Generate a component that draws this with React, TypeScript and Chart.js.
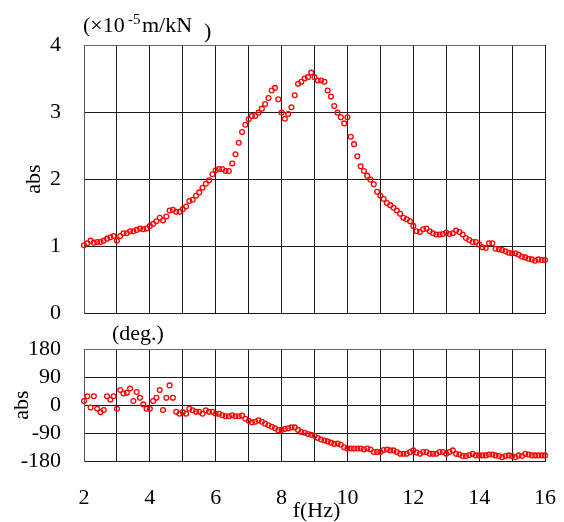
import { useEffect, useRef } from "react";
import { Chart, registerables } from "chart.js";

Chart.register(...registerables);

const freqHz = [
  2.0, 2.1, 2.2, 2.3, 2.4, 2.5, 2.6, 2.7, 2.8, 2.9,
  3.0, 3.1, 3.2, 3.3, 3.4, 3.5, 3.6, 3.7, 3.8, 3.9,
  4.0, 4.1, 4.2, 4.3, 4.4, 4.5, 4.6, 4.7, 4.8, 4.9,
  5.0, 5.1, 5.2, 5.3, 5.4, 5.5, 5.6, 5.7, 5.8, 5.9,
  6.0, 6.1, 6.2, 6.3, 6.4, 6.5, 6.6, 6.7, 6.8, 6.9,
  7.0, 7.1, 7.2, 7.3, 7.4, 7.5, 7.6, 7.7, 7.8, 7.9,
  8.0, 8.1, 8.2, 8.3, 8.4, 8.5, 8.6, 8.7, 8.8, 8.9,
  9.0, 9.1, 9.2, 9.3, 9.4, 9.5, 9.6, 9.7, 9.8, 9.9,
  10.0, 10.1, 10.2, 10.3, 10.4, 10.5, 10.6, 10.7, 10.8, 10.9,
  11.0, 11.1, 11.2, 11.3, 11.4, 11.5, 11.6, 11.7, 11.8, 11.9,
  12.0, 12.1, 12.2, 12.3, 12.4, 12.5, 12.6, 12.7, 12.8, 12.9,
  13.0, 13.1, 13.2, 13.3, 13.4, 13.5, 13.6, 13.7, 13.8, 13.9,
  14.0, 14.1, 14.2, 14.3, 14.4, 14.5, 14.6, 14.7, 14.8, 14.9,
  15.0, 15.1, 15.2, 15.3, 15.4, 15.5, 15.6, 15.7, 15.8, 15.9,
  16.0,
];

// |compliance| (x10^-5 m/kN)
const absValues = [
  1.01, 1.04, 1.08, 1.05, 1.06, 1.06, 1.08, 1.11, 1.13, 1.15,
  1.08, 1.15, 1.19, 1.19, 1.22, 1.22, 1.24, 1.26, 1.25, 1.26,
  1.30, 1.33, 1.37, 1.42, 1.38, 1.44, 1.53, 1.54, 1.51, 1.51,
  1.55, 1.59, 1.67, 1.69, 1.75, 1.80, 1.87, 1.93, 1.98, 2.07,
  2.13, 2.15, 2.15, 2.12, 2.12, 2.23, 2.37, 2.54, 2.70, 2.81,
  2.89, 2.94, 2.94, 2.99, 3.05, 3.12, 3.21, 3.32, 3.36, 3.19,
  2.99, 2.90, 2.97, 3.07, 3.25, 3.42, 3.45, 3.50, 3.52, 3.59,
  3.52, 3.47, 3.47, 3.45, 3.32, 3.23, 3.09, 2.99, 2.92, 2.83,
  2.92, 2.63, 2.52, 2.34, 2.19, 2.12, 2.05, 1.99, 1.92, 1.81,
  1.75, 1.70, 1.64, 1.61, 1.57, 1.53, 1.48, 1.42, 1.40, 1.37,
  1.30, 1.22, 1.21, 1.25, 1.26, 1.22, 1.19, 1.17, 1.17, 1.18,
  1.20, 1.18, 1.19, 1.23, 1.21, 1.17, 1.12, 1.09, 1.06, 1.06,
  1.02, 0.98, 0.97, 1.04, 1.04, 0.96, 0.95, 0.94, 0.92, 0.90,
  0.89, 0.89, 0.87, 0.84, 0.83, 0.81, 0.80, 0.78, 0.80, 0.79,
  0.79,
];

// phase (deg.)
const phaseDeg = [
  13, 28, -8, 28, -12, -23, -16, 28, 17, 28,
  -12, 48, 37, 39, 53, 13, 42, 23, 2, -12,
  -12, 13, 23, 48, -16, 23, 63, 23, -22, -28,
  -23, -28, -12, -17, -22, -22, -28, -17, -22, -22,
  -28, -28, -33, -36, -36, -33, -36, -36, -34, -44,
  -51, -56, -54, -49, -54, -60, -65, -70, -75, -81,
  -80, -77, -75, -72, -72, -80, -87, -89, -93, -96,
  -99, -106, -111, -114, -117, -121, -125, -124, -128, -136,
  -140, -140, -140, -140, -140, -143, -140, -143, -151, -151,
  -151, -145, -143, -146, -146, -151, -157, -157, -157, -151,
  -146, -153, -157, -151, -151, -157, -157, -157, -151, -151,
  -157, -151, -146, -157, -159, -164, -164, -161, -157, -162,
  -162, -162, -162, -159, -159, -162, -164, -168, -164, -162,
  -164, -168, -162, -164, -157, -159, -162, -162, -162, -162,
  -162,
];

const xTickLabels = ["2", "4", "6", "8", "10", "12", "14", "16"];
const absTickLabels = ["0", "1", "2", "3", "4"];
const phaseTickLabels = ["-180", "-90", "0", "90", "180"];

const FONT = '"Liberation Serif", "DejaVu Serif", serif';
const GRID = "#1a1a1a";
const RED = "#ff0000";

function xLabel(v: number) {
  const s = String(v);
  return xTickLabels.includes(s) ? s : "";
}

const topTextPlugin = {
  id: "topText",
  afterDraw(chart: any) {
    const { ctx, chartArea: a } = chart;
    ctx.save();
    ctx.fillStyle = "#000";
    ctx.textAlign = "left";
    ctx.textBaseline = "alphabetic";
    ctx.font = `22px ${FONT}`;
    ctx.fillText("(\u00d710", a.left - 1, a.top - 13);
    ctx.font = `15px ${FONT}`;
    ctx.fillText("-5", a.left + 44, a.top - 21);
    ctx.font = `22px ${FONT}`;
    ctx.fillText("m/kN", a.left + 58, a.top - 13);
    ctx.fillText(")", a.left + 120, a.top - 7);
    ctx.translate(a.left - 50, (a.top + a.bottom) / 2);
    ctx.rotate(-Math.PI / 2);
    ctx.textAlign = "center";
    ctx.textBaseline = "middle";
    ctx.fillText("abs", 0, 0);
    ctx.restore();
  },
};

const bottomTextPlugin = {
  id: "bottomText",
  afterDraw(chart: any) {
    const { ctx, chartArea: a } = chart;
    ctx.save();
    ctx.fillStyle = "#000";
    ctx.font = `22px ${FONT}`;
    ctx.textAlign = "left";
    ctx.textBaseline = "alphabetic";
    ctx.fillText("(deg.)", a.left + 28, a.top - 9);
    ctx.textAlign = "center";
    ctx.fillText("f(Hz)", (a.left + a.right) / 2 + 2, a.bottom + 56);
    ctx.translate(a.left - 62, (a.top + a.bottom) / 2);
    ctx.rotate(-Math.PI / 2);
    ctx.textBaseline = "middle";
    ctx.fillText("abs", 0, 0);
    ctx.restore();
  },
};

function makePoints(ys: number[]) {
  return freqHz.map((x, i) => ({ x, y: ys[i] }));
}

function dataset(ys: number[]) {
  return {
    data: makePoints(ys),
    showLine: false,
    pointRadius: 2.4,
    pointBorderWidth: 1.3,
    pointBorderColor: RED,
    pointBackgroundColor: "rgba(255,255,255,0)",
    pointHoverRadius: 2.4,
    clip: false as any,
  };
}

function makeChart(canvas: HTMLCanvasElement, which: "top" | "bottom") {
  const isTop = which === "top";
  const labels = isTop ? absTickLabels : phaseTickLabels;
  const yMin = Number(labels[0]);
  const yMax = Number(labels[labels.length - 1]);
  const yStep = Number(labels[1]) - Number(labels[0]);
  return new Chart(canvas, {
    type: "scatter",
    data: { datasets: [dataset(isTop ? absValues : phaseDeg) as any] },
    options: {
      responsive: false,
      animation: false,
      devicePixelRatio: 1,
      layout: {
        padding: isTop
          ? { top: 45, right: 19, bottom: 209, left: 0 }
          : { top: 349, right: 19, bottom: 0, left: 0 },
      },
      plugins: {
        legend: { display: false },
        tooltip: { enabled: false },
        title: { display: false },
      },
      scales: {
        x: {
          type: "linear",
          min: Number(xTickLabels[0]),
          max: Number(xTickLabels[xTickLabels.length - 1]),
          ticks: {
            stepSize: 1,
            display: !isTop,
            autoSkip: false,
            maxRotation: 0,
            padding: 24,
            color: "#000",
            font: { family: FONT, size: 22 },
            callback: (v: any) => xLabel(Number(v)),
          },
          grid: { color: GRID, lineWidth: 1, drawTicks: false },
          border: { display: true, color: GRID },
          afterFit: (s: any) => {
            s.height = isTop ? 0 : 61;
            s.paddingLeft = 0;
            s.paddingRight = 0;
          },
        },
        y: {
          type: "linear",
          min: yMin,
          max: yMax,
          ticks: {
            stepSize: yStep,
            autoSkip: false,
            padding: 23,
            color: "#000",
            font: { family: FONT, size: 22 },
            callback: (v: any) => String(v),
          },
          grid: {
            color: (c: any) => (c.tick && c.tick.value === yMax ? "#666" : GRID),
            lineWidth: 1,
            drawTicks: false,
          },
          border: { display: true, color: "#555" },
          afterFit: (s: any) => {
            s.width = 84;
            s.paddingTop = 0;
            s.paddingBottom = 0;
          },
        },
      },
    },
    plugins: [isTop ? topTextPlugin : bottomTextPlugin],
  } as any);
}

export default function App() {
  const topRef = useRef<HTMLCanvasElement | null>(null);
  const botRef = useRef<HTMLCanvasElement | null>(null);

  useEffect(() => {
    let charts: Chart[] = [];
    let cancelled = false;
    const build = () => {
      if (cancelled || !topRef.current || !botRef.current) return;
      charts = [makeChart(topRef.current, "top"), makeChart(botRef.current, "bottom")];
    };
    const fonts = (document as any).fonts;
    if (fonts && fonts.load) {
      Promise.all([
        fonts.load('22px "Liberation Serif"'),
        fonts.load('15px "Liberation Serif"'),
      ])
        .catch(() => null)
        .then(build);
    } else {
      build();
    }
    return () => {
      cancelled = true;
      charts.forEach((c) => c.destroy());
    };
  }, []);

  const style: React.CSSProperties = {
    position: "absolute",
    left: 0,
    top: 0,
    width: 564,
    height: 522,
  };

  return (
    <div style={{ position: "absolute", left: 0, top: 0, width: 564, height: 522, background: "#fff", fontFamily: FONT }}>
      <span style={{ position: "absolute", left: -1000, fontFamily: FONT, fontSize: 22 }}>f(Hz)</span>
      <canvas ref={topRef} width={564} height={522} style={style} />
      <canvas ref={botRef} width={564} height={522} style={style} />
    </div>
  );
}
